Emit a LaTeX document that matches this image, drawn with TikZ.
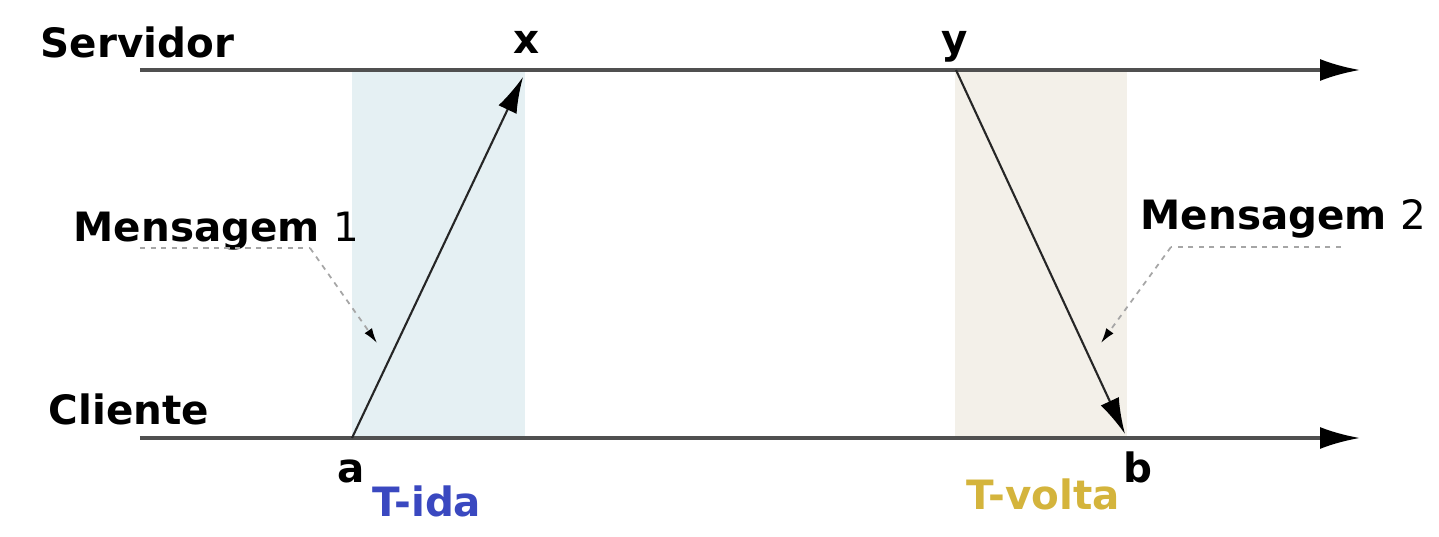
\documentclass[tikz,border=0pt]{standalone}
\usepackage{fontspec}
\setmainfont{DejaVu Sans}
\usetikzlibrary{arrows.meta,positioning,calc}
\definecolor{tida}{RGB}{58,72,192}
\definecolor{tvolta}{RGB}{212,180,60}
\definecolor{softblue}{RGB}{229,240,243}
\definecolor{softsand}{RGB}{243,240,233}
\definecolor{axisgray}{RGB}{80,80,80}
\tikzset{
  lbl/.style={font=\fontsize{11.5}{13}\selectfont\bfseries,inner sep=0pt,anchor=base west},
  axis/.style={draw=axisgray,line width=0.9pt,-{Latex[length=4mm,width=2.2mm,color=black]}},
  msg/.style={draw=black!85,line width=0.6pt,-{Latex[length=3.6mm,width=2mm,color=black]}},
  lead/.style={draw=black!35,line width=0.5pt,dash pattern=on 1.5pt off 1.5pt},
  leadarr/.style={lead,-{Latex[length=1.5mm,width=0.9mm,color=black]}}
}
\begin{document}
\begin{tikzpicture}
\useasboundingbox (0,0) rectangle (14.39,5.37);
% time axes and instants
\coordinate (s0) at (1.40,4.67);
\coordinate (s1) at (13.60,4.67);
\coordinate (c0) at (1.40,0.99);
\coordinate (c1) at (13.60,0.99);
\coordinate (pa) at (3.52,0.99);
\coordinate (px) at (5.23,4.60);
\coordinate (py) at (9.56,4.67);
\coordinate (pb) at (11.25,1.03);
% shaded intervals
\fill[softblue] (3.52,0.99) rectangle (5.25,4.67);
\fill[softsand] (9.55,0.99) rectangle (11.27,4.67);
\draw[axis] (s0) -- (s1);
\draw[axis] (c0) -- (c1);
\draw[msg] (pa) -- (px);
\draw[msg] (py) -- (pb);
% labels
\node[lbl] (srv) at (0.40,4.79) {Servidor};
\node[lbl] (cli) at (0.48,1.12) {Cliente};
\node[lbl] (lx) at (5.13,4.83) {x};
\node[lbl] (ly) at (9.41,4.83) {y};
\node[lbl] (la) at (3.37,0.54) {a};
\node[lbl] (lb) at (11.23,0.54) {b};
\node[lbl,text=tida] (tida) at (3.72,0.20) {T-ida};
\node[lbl,text=tvolta] (tvolta) at (9.66,0.27) {T-volta};
\node[lbl] (msg1) at (0.73,2.95) {Mensagem {\mdseries 1}};
\node[lbl] (msg2) at (11.40,3.07) {Mensagem {\mdseries 2}};
% leaders
\coordinate (m1u) at (1.40,2.89);
\coordinate (m1k) at (3.10,2.89);
\coordinate (m1t) at (3.77,1.94);
\coordinate (m2u) at (13.41,2.90);
\coordinate (m2k) at (11.71,2.90);
\coordinate (m2t) at (11.01,1.94);
\draw[lead] (m1u) -- (m1k);
\draw[leadarr] (m1k) -- (m1t);
\draw[lead] (m2u) -- (m2k);
\draw[leadarr] (m2k) -- (m2t);
\end{tikzpicture}
\end{document}
